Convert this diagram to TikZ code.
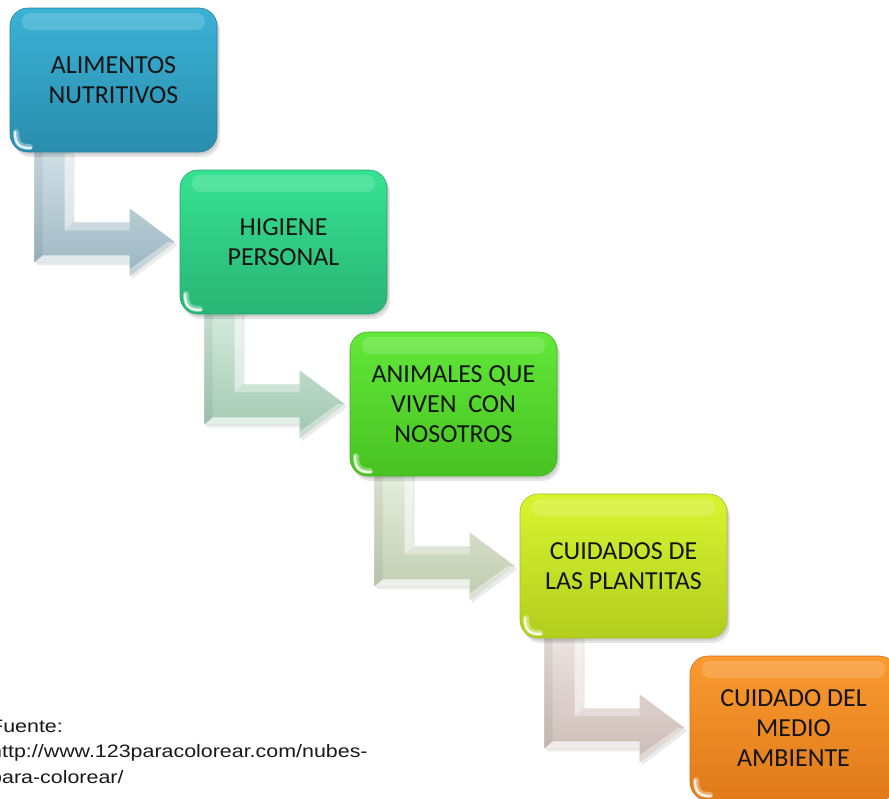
\documentclass[tikz,border=0pt]{standalone}
\usepackage{fontspec}
\setmainfont{Carlito}
\newfontfamily\srcfont[FakeStretch=1.19]{Liberation Sans}
\usetikzlibrary{calc}
\pgfdeclarelayer{bg}
\pgfsetlayers{bg,main}
\definecolor{c1t}{HTML}{3AB2D6}\definecolor{c1b}{HTML}{2A8DAD}
\definecolor{c2t}{HTML}{36E292}\definecolor{c2b}{HTML}{29B475}
\definecolor{c3t}{HTML}{62E83A}\definecolor{c3b}{HTML}{48C222}
\definecolor{c4t}{HTML}{D8F430}\definecolor{c4b}{HTML}{B2CE1E}
\definecolor{c5t}{HTML}{FA9A30}\definecolor{c5b}{HTML}{E07A1A}
\definecolor{a1}{HTML}{A8C5D1}\definecolor{a2}{HTML}{AED8BF}
\definecolor{a3}{HTML}{CFDDBE}\definecolor{a4}{HTML}{DDCBC5}
\tikzset{
  box/.style 2 args={rectangle, rounded corners=18pt, minimum width=207pt, minimum height=144pt,
    inner sep=0pt, align=center, font=\fontsize{26}{30}\selectfont, text=black!92,
    top color=#1, bottom color=#2, draw=#2!92!black, line width=0.6pt,
    preaction={fill=black, opacity=0.10, transform canvas={shift={(3pt,-5pt)}}},
    preaction={fill=black, opacity=0.10, transform canvas={shift={(1.5pt,-2.5pt)}}},
    path picture={
      \fill[white, opacity=0.16, rounded corners=8pt]
        ($(path picture bounding box.north west)+(12,5)$) rectangle
        ($(path picture bounding box.north east)+(-12,22)$);
      \draw[white, opacity=0.35, line width=6pt, line cap=round]
        ($(path picture bounding box.south west)+(6,-20)$) .. controls
        ($(path picture bounding box.south west)+(6,-8)$) and
        ($(path picture bounding box.south west)+(10,-5)$) ..
        ($(path picture bounding box.south west)+(20,-5)$);
      \draw[white, opacity=0.8, line width=2.5pt, line cap=round]
        ($(path picture bounding box.south west)+(5,-20)$) .. controls
        ($(path picture bounding box.south west)+(5,-7)$) and
        ($(path picture bounding box.south west)+(10,-4)$) ..
        ($(path picture bounding box.south west)+(21,-4)$);
    }},
  srctext/.style={anchor=base west, inner sep=0pt, font=\srcfont\fontsize{18}{25.5}\selectfont, text=black!90}
}
\begin{document}
\begin{tikzpicture}[x=1pt,y=-1pt]
\useasboundingbox (0,0) rectangle (889,798);
\clip (0,0) rectangle (889,798);
\node[box={c1t}{c1b}] (b1) at (113.5,80) {ALIMENTOS\\NUTRITIVOS};
\node[box={c2t}{c2b}] (b2) at (283.5,242) {HIGIENE\\PERSONAL};
\node[box={c3t}{c3b}] (b3) at (453.5,404) {ANIMALES QUE\\VIVEN\ \ CON\\NOSOTROS};
\node[box={c4t}{c4b}] (b4) at (623.5,566) {CUIDADOS DE\\LAS PLANTITAS};
\node[box={c5t}{c5b}] (b5) at (793.5,728) {CUIDADO DEL\\MEDIO\\AMBIENTE};
\begin{pgfonlayer}{bg}
\foreach \a/\b/\c in {b1/b2/a1, b2/b3/a2, b3/b4/a3, b4/b5/a4}{
  \fill[black, opacity=0.08] ($(\a.south west)+(27,0)$) -- ($(\a.south west)+(65,0)$) -- ($(\a.south west)+(65,72)$) -- ($(\a.south west)+(122,72)$) -- ($(\a.south west)+(122,58)$) -- ($(\b.west)+(-2,3)$) -- ($(\a.south west)+(122,127)$) -- ($(\a.south west)+(122,113)$) -- ($(\a.south west)+(27,113)$) -- cycle;
  \path[top color=\c!55!white, bottom color=\c!92!black]
    ($(\a.south west)+(25,0)$) -- ($(\a.south west)+(63,0)$) -- ($(\a.south west)+(63,70)$) -- ($(\a.south west)+(120,70)$) -- ($(\a.south west)+(120,56)$) -- ($(\b.west)+(-5,0)$) -- ($(\a.south west)+(120,124)$) -- ($(\a.south west)+(120,110)$) -- ($(\a.south west)+(25,110)$) -- cycle;
  \fill[white, opacity=0.55] ($(\a.south west)+(55,0)$) -- ($(\a.south west)+(63,0)$) -- ($(\a.south west)+(63,70)$) -- ($(\a.south west)+(55,78)$) -- cycle;
  \fill[white, opacity=0.35] ($(\a.south west)+(55,78)$) -- ($(\a.south west)+(63,70)$) -- ($(\a.south west)+(120,70)$) -- ($(\a.south west)+(120,78)$) -- cycle;
  \fill[white, opacity=0.7] ($(\a.south west)+(25,110)$) -- ($(\a.south west)+(33,103)$) -- ($(\a.south west)+(120,103)$) -- ($(\a.south west)+(120,110)$) -- cycle;
  \fill[white, opacity=0.4] ($(\a.south west)+(120,117)$) -- ($(\b.west)+(-12,0)$) -- ($(\b.west)+(-5,0)$) -- ($(\a.south west)+(120,124)$) -- cycle;
  \fill[black, opacity=0.06] ($(\a.south west)+(25,0)$) -- ($(\a.south west)+(33,0)$) -- ($(\a.south west)+(33,103)$) -- ($(\a.south west)+(25,110)$) -- cycle;
}
\end{pgfonlayer}
\node[srctext] (s1) at (-10,732) {Fuente:};
\node[srctext] (s2) at (-10,757.5) {http://www.123paracolorear.com/nubes-};
\node[srctext] (s3) at (-10,783) {para-colorear/};
\end{tikzpicture}
\end{document}
